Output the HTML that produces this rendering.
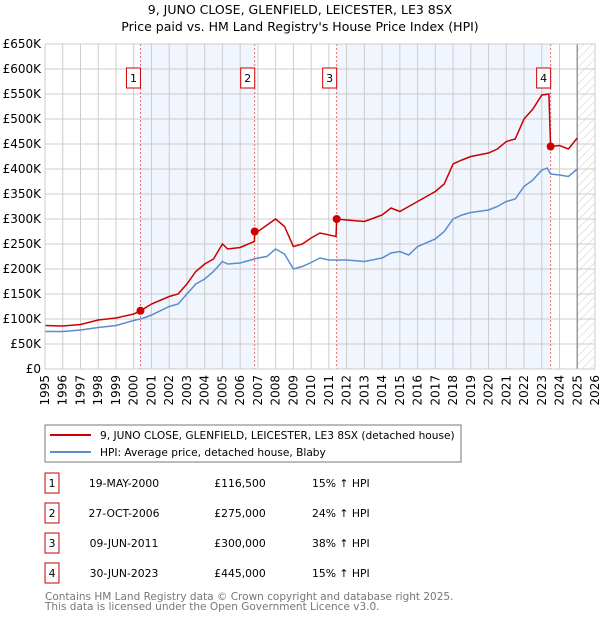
<!DOCTYPE html>
<html><head><meta charset="utf-8"><style>
body{margin:0;background:#fff;font-family:"DejaVu Sans","Liberation Sans",sans-serif;}
svg text{font-family:"DejaVu Sans","Liberation Sans",sans-serif;}
</style></head><body>
<svg id="chart" width="600" height="620" xmlns="http://www.w3.org/2000/svg">
<defs>
<pattern id="hatch" width="6" height="6" patternUnits="userSpaceOnUse" patternTransform="rotate(45)">
<line x1="0" y1="0" x2="0" y2="6" stroke="#ccc" stroke-width="1"/>
</pattern>
</defs>
<text x="300" y="14" text-anchor="middle" font-size="12.5" fill="#000">9, JUNO CLOSE, GLENFIELD, LEICESTER, LE3 8SX</text>
<text x="300" y="31" text-anchor="middle" font-size="12.5" fill="#000">Price paid vs. HM Land Registry's House Price Index (HPI)</text>
<g id="plot"></g>
<g>
<rect x="45" y="425" width="416" height="37" fill="#fff" stroke="#777" stroke-width="1"/>
<line x1="50" y1="435" x2="91" y2="435" stroke="#cc0000" stroke-width="2"/>
<text x="100" y="439" font-size="10.6">9, JUNO CLOSE, GLENFIELD, LEICESTER, LE3 8SX (detached house)</text>
<line x1="50" y1="452" x2="91" y2="452" stroke="#5b8ccf" stroke-width="2"/>
<text x="100" y="456" font-size="10.6">HPI: Average price, detached house, Blaby</text>
</g>
<g id="table"></g>
<text x="45" y="600" font-size="10.5" fill="#777">Contains HM Land Registry data © Crown copyright and database right 2025.</text>
<text x="45" y="610" font-size="10.5" fill="#777">This data is licensed under the Open Government Licence v3.0.</text>
</svg>
<script>
const hpiDates=[1995,1996,1997,1998,1999,2000,2000.5,2001,2002,2002.5,2003,2003.5,2004,2004.5,2005,2005.3,2006,2007,2007.5,2008,2008.5,2009,2009.5,2010,2010.5,2011,2012,2013,2014,2014.5,2015,2015.5,2016,2017,2017.5,2018,2018.5,2019,2020,2020.5,2021,2021.5,2022,2022.5,2023,2023.3,2023.5,2024,2024.5,2025];
const hpiValues=[75,75,78,83,87,97,101,108,125,130,150,170,180,195,215,210,212,222,225,240,230,200,205,213,222,218,218,215,222,232,235,228,245,260,275,300,308,313,318,325,335,340,365,378,398,402,390,388,385,400];
const priceDates=[1995,1996,1997,1998,1999,2000,2000.38,2001,2002,2002.5,2003,2003.5,2004,2004.5,2005,2005.3,2006,2006.8,2006.82,2007,2008,2008.5,2009,2009.5,2010,2010.5,2011.4,2011.44,2012,2013,2014,2014.5,2015,2015.5,2016,2017,2017.5,2018,2018.5,2019,2020,2020.5,2021,2021.5,2022,2022.5,2023,2023.4,2023.5,2024,2024.5,2025];
const priceValues=[87,86,89,98,102,110,116.5,130,145,150,170,195,210,220,250,240,243,255,275,275,300,285,245,250,262,272,265,300,298,295,308,322,315,325,335,355,370,410,418,425,432,440,455,460,500,520,548,550,445,447,440,462];
const saleLabels=["1","2","3","4"];
const saleDates=[2000.38,2006.82,2011.44,2023.5];
const salePrices=[116.5,275,300,445];
const saleDateText=["19-MAY-2000","27-OCT-2006","09-JUN-2011","30-JUN-2023"];
const salePriceText=["£116,500","£275,000","£300,000","£445,000"];
const saleHpiText=["15% ↑ HPI","24% ↑ HPI","38% ↑ HPI","15% ↑ HPI"];
const yTicks=[0,50,100,150,200,250,300,350,400,450,500,550,600,650];
const yTickLabels=["£0","£50K","£100K","£150K","£200K","£250K","£300K","£350K","£400K","£450K","£500K","£550K","£600K","£650K"];
const xYears=[1995,1996,1997,1998,1999,2000,2001,2002,2003,2004,2005,2006,2007,2008,2009,2010,2011,2012,2013,2014,2015,2016,2017,2018,2019,2020,2021,2022,2023,2024,2025,2026];

const X0=45,X1=595,Y0=369,Y1=44;
const xs=y=>X0+(y-1995)/31*(X1-X0);
const ys=v=>Y0-v/650*(Y0-Y1);
const NS="http://www.w3.org/2000/svg";
const plot=document.getElementById('plot');
function mk(tag,attrs,parent){const e=document.createElementNS(NS,tag);for(const k in attrs)e.setAttribute(k,attrs[k]);(parent||plot).appendChild(e);return e;}

let r=mk('rect',{x:X0,y:Y1,width:X1-X0,height:Y0-Y1,fill:'#fff'});


for(let i=0;i<saleDates.length;i+=2){
 const s=mk('rect',{x:xs(saleDates[i]),y:Y1,width:xs(saleDates[i+1])-xs(saleDates[i]),height:Y0-Y1,fill:'#eef3fc',opacity:0.8});
 
 
}
const h=mk('rect',{x:xs(2025),y:Y1,width:X1-xs(2025),height:Y0-Y1,fill:'url(#hatch)'});


yTicks.forEach((v,i)=>{
 const l=mk('line',{x1:X0,x2:X1,y1:ys(v),y2:ys(v),stroke:'#ccc','stroke-width':1});
 
 
 const t=mk('text',{x:X0-4,y:ys(v)+4,'text-anchor':'end','font-size':12,fill:'#000'});
 t.textContent=yTickLabels[i];
 
 
});
xYears.forEach(yr=>{
 const l=mk('line',{x1:xs(yr),x2:xs(yr),y1:Y1,y2:Y0,stroke:'#ccc','stroke-width':1});
 
 
 const t=mk('text',{x:0,y:0,'text-anchor':'end','font-size':12,fill:'#000',transform:`translate(${xs(yr)+4},${Y0+6}) rotate(-90)`});
 t.textContent=yr;
 
 
});
const nl=mk('line',{x1:xs(2025),x2:xs(2025),y1:Y1,y2:Y0,stroke:'#999','stroke-width':1.5});


saleDates.forEach((d,i)=>{
 const l=mk('line',{x1:xs(d),x2:xs(d),y1:Y1,y2:Y0,stroke:'#e66','stroke-width':1,'stroke-dasharray':'2,2'});
 
 
 const b=mk('rect',{x:xs(d)-14,y:68,width:14,height:20,fill:'#fff',stroke:'#cc0000','stroke-width':1});
 
 
 const t=mk('text',{x:xs(d)-7,y:82,'text-anchor':'middle','font-size':11});
 t.textContent=saleLabels[i];
 
 
});
function path(dates,vals){return dates.map((d,i)=>(i?'L':'M')+xs(d).toFixed(1)+','+ys(vals[i]).toFixed(1)).join(' ');}
const hp=mk('path',{d:path(hpiDates,hpiValues),fill:'none',stroke:'#5b8ccf','stroke-width':1.5});


const pp=mk('path',{d:path(priceDates,priceValues),fill:'none',stroke:'#cc0000','stroke-width':1.5});


saleDates.forEach((d,i)=>{
 const c=mk('circle',{cx:xs(d),cy:ys(salePrices[i]),r:4,fill:'#cc0000'});
 
 
});
const ax=mk('rect',{x:X0,y:Y1,width:X1-X0,height:Y0-Y1,fill:'none',stroke:'#ccc'});


const tb=document.getElementById('table');
saleLabels.forEach((lab,i)=>{
 const cy=483+i*30;
 const b=mk('rect',{x:45,y:cy-10,width:14,height:20,fill:'#fff',stroke:'#cc0000','stroke-width':1},tb);
 
 
 const cells=[[52,lab,'middle'],[124,saleDateText[i],'middle'],[240,salePriceText[i],'middle'],[312,saleHpiText[i],'start']];
 cells.forEach(([x,txt,a],j)=>{
  const t=mk('text',{x:x,y:cy+4,'text-anchor':a,'font-size':10.8},tb);
  t.textContent=txt;
  
  
 });
});
</script>
</body></html>
